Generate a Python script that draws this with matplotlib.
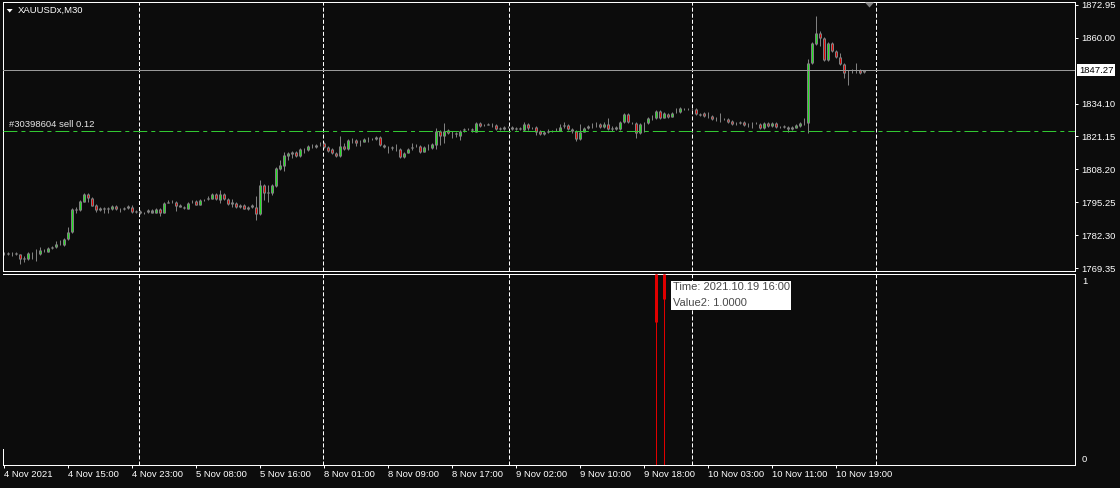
import matplotlib
matplotlib.use("Agg")
import matplotlib.pyplot as plt
from matplotlib.collections import LineCollection
from matplotlib.patches import Rectangle, Polygon
from matplotlib.transforms import blended_transform_factory

# XAUUSDx M30 candles, bar 0 = 4 Nov 2021 07:00
opens = [
    1775.2, 1775.1, 1775.0, 1774.9, 1774.7, 1772.8, 1772.8, 1775.1,
    1775.0, 1774.7, 1776.4, 1775.8, 1777.2, 1777.5, 1778.8, 1778.4,
    1780.6, 1783.4, 1792.4, 1792.2, 1795.5, 1798.4, 1796.8, 1794.0,
    1792.1, 1792.8, 1792.6, 1792.6, 1793.8, 1792.5, 1792.6, 1792.9,
    1793.5, 1791.6, 1791.7, 1790.9, 1791.3, 1792.0, 1791.2, 1792.6,
    1791.2, 1795.1, 1795.5, 1795.2, 1794.3, 1793.5, 1792.7, 1795.2,
    1795.9, 1794.3, 1796.1, 1796.6, 1796.7, 1798.5, 1796.1, 1798.5,
    1796.4, 1794.4, 1795.1, 1793.3, 1794.1, 1792.7, 1794.2, 1793.3,
    1790.6, 1802.1, 1799.0, 1799.0, 1801.7, 1808.4, 1809.5, 1813.6,
    1814.1, 1814.9, 1813.6, 1815.9, 1815.8, 1817.4, 1816.9, 1818.0,
    1818.5, 1816.9, 1816.1, 1814.8, 1813.5, 1817.4, 1816.4, 1819.8,
    1819.8, 1818.9, 1819.1, 1820.3, 1820.2, 1820.0, 1821.1, 1817.8,
    1817.2, 1816.9, 1816.4, 1816.1, 1813.2, 1814.8, 1816.8, 1817.4,
    1817.4, 1815.2, 1816.9, 1816.5, 1817.9, 1823.5, 1821.4, 1823.7,
    1822.5, 1822.4, 1821.5, 1823.6, 1824.0, 1823.9, 1823.1, 1826.3,
    1825.5, 1825.8, 1826.0, 1825.7, 1824.0, 1824.9, 1824.8, 1825.0,
    1824.1, 1824.3, 1823.7, 1825.9, 1824.6, 1824.8, 1823.3, 1822.0,
    1823.1, 1823.4, 1823.8, 1823.5, 1825.4, 1825.7, 1824.0, 1823.3,
    1820.0, 1823.1, 1824.4, 1825.6, 1825.9, 1825.9, 1825.0, 1825.9,
    1824.2, 1824.0, 1824.1, 1826.7, 1829.9, 1826.6, 1826.3, 1822.4,
    1826.3, 1826.3, 1828.3, 1828.3, 1831.2, 1828.6, 1830.2, 1829.0,
    1830.5, 1830.7, 1832.1, 1831.9, 1831.8, 1831.9, 1829.6, 1830.5,
    1829.2, 1829.2, 1827.9, 1828.0, 1827.9, 1827.9, 1827.3, 1826.3,
    1826.3, 1827.0, 1826.1, 1826.1, 1826.4, 1826.0, 1824.4, 1826.3,
    1825.3, 1826.6, 1825.0, 1825.0, 1825.0, 1824.0, 1824.6, 1825.3,
    1826.6, 1826.3, 1850.0, 1857.6, 1861.8, 1859.8, 1851.3, 1857.8,
    1855.0, 1852.3, 1849.7, 1847.0, 1847.2, 1847.6, 1847.4, 1846.7,
]
highs = [
    1775.6, 1775.5, 1775.6, 1775.7, 1775.0, 1774.1, 1775.6, 1775.8,
    1776.8, 1777.5, 1777.0, 1777.8, 1778.1, 1779.9, 1780.4, 1781.2,
    1785.4, 1793.0, 1793.3, 1796.2, 1798.8, 1798.8, 1797.2, 1794.4,
    1793.3, 1793.4, 1793.5, 1794.3, 1794.3, 1793.0, 1793.3, 1794.3,
    1794.0, 1792.2, 1792.1, 1791.6, 1792.4, 1792.4, 1793.0, 1793.0,
    1795.5, 1796.0, 1796.0, 1795.6, 1794.7, 1793.6, 1795.2, 1796.0,
    1796.3, 1796.5, 1796.6, 1797.8, 1798.8, 1798.9, 1800.1, 1798.9,
    1796.8, 1796.4, 1795.5, 1794.6, 1794.5, 1793.9, 1794.6, 1797.7,
    1804.0, 1802.5, 1802.1, 1802.5, 1809.0, 1811.9, 1815.2, 1815.0,
    1815.6, 1815.3, 1816.5, 1816.6, 1817.8, 1818.2, 1818.2, 1818.8,
    1818.9, 1817.3, 1816.5, 1815.2, 1821.4, 1818.7, 1820.2, 1820.4,
    1820.2, 1819.6, 1820.7, 1820.8, 1820.5, 1821.5, 1821.5, 1818.2,
    1817.6, 1817.3, 1818.1, 1816.5, 1815.2, 1816.5, 1818.5, 1818.0,
    1817.8, 1817.3, 1818.2, 1818.5, 1824.4, 1823.9, 1826.3, 1824.1,
    1823.3, 1822.8, 1823.7, 1824.4, 1824.5, 1824.6, 1826.7, 1826.7,
    1826.1, 1826.4, 1826.3, 1826.1, 1825.0, 1825.3, 1825.4, 1825.3,
    1825.0, 1824.7, 1827.0, 1826.3, 1825.0, 1825.2, 1823.7, 1823.2,
    1824.1, 1823.9, 1824.3, 1825.9, 1827.0, 1826.1, 1824.4, 1823.7,
    1825.9, 1825.0, 1825.8, 1826.3, 1827.0, 1826.3, 1826.7, 1828.6,
    1825.4, 1825.4, 1827.1, 1830.3, 1830.3, 1827.0, 1826.7, 1826.3,
    1826.8, 1828.7, 1829.6, 1831.6, 1831.6, 1830.7, 1830.6, 1830.7,
    1832.5, 1832.6, 1832.5, 1832.3, 1832.3, 1832.3, 1830.5, 1830.9,
    1830.9, 1829.6, 1828.7, 1830.3, 1828.4, 1828.3, 1827.7, 1826.9,
    1827.4, 1827.4, 1826.5, 1827.0, 1826.8, 1826.4, 1826.7, 1826.7,
    1827.0, 1827.0, 1825.4, 1825.5, 1825.4, 1825.4, 1826.1, 1827.0,
    1828.3, 1851.5, 1858.5, 1868.6, 1862.6, 1860.5, 1858.2, 1858.5,
    1855.4, 1853.9, 1850.1, 1847.5, 1847.9, 1850.0, 1847.8, 1847.5,
]
lows = [
    1774.6, 1774.5, 1774.2, 1774.6, 1770.8, 1771.9, 1772.5, 1772.8,
    1772.3, 1774.3, 1775.7, 1775.5, 1776.9, 1777.2, 1778.3, 1778.0,
    1780.3, 1783.0, 1790.9, 1791.9, 1795.2, 1795.2, 1793.6, 1791.3,
    1791.8, 1790.9, 1790.9, 1792.3, 1792.1, 1791.5, 1792.3, 1792.6,
    1791.2, 1791.2, 1790.5, 1790.6, 1791.0, 1790.9, 1790.9, 1790.0,
    1790.9, 1794.8, 1795.0, 1791.9, 1793.2, 1792.7, 1792.4, 1794.9,
    1794.0, 1794.0, 1795.8, 1796.3, 1796.4, 1796.1, 1794.8, 1796.1,
    1794.1, 1793.5, 1793.0, 1793.0, 1792.4, 1792.2, 1792.9, 1788.3,
    1790.2, 1796.2, 1795.5, 1798.1, 1801.3, 1808.0, 1807.6, 1811.9,
    1812.6, 1813.2, 1813.2, 1814.5, 1815.5, 1816.5, 1816.6, 1817.6,
    1816.5, 1815.2, 1814.1, 1813.2, 1813.1, 1815.9, 1816.0, 1818.5,
    1817.4, 1817.4, 1818.8, 1819.1, 1819.6, 1819.7, 1817.4, 1816.5,
    1814.5, 1815.8, 1815.6, 1812.6, 1812.8, 1814.5, 1815.8, 1817.0,
    1814.8, 1814.9, 1815.8, 1816.2, 1816.1, 1817.8, 1818.5, 1822.0,
    1820.7, 1820.8, 1819.8, 1823.1, 1823.6, 1823.1, 1822.8, 1824.9,
    1825.2, 1825.5, 1825.0, 1823.6, 1823.6, 1823.6, 1824.5, 1823.9,
    1823.8, 1823.8, 1823.4, 1823.7, 1824.2, 1821.7, 1821.6, 1821.6,
    1822.6, 1823.1, 1823.5, 1823.2, 1824.4, 1823.6, 1822.4, 1819.4,
    1819.6, 1822.8, 1824.1, 1824.6, 1825.0, 1824.6, 1824.6, 1823.6,
    1823.3, 1823.7, 1823.8, 1826.4, 1826.3, 1825.9, 1820.4, 1822.0,
    1823.1, 1826.0, 1827.7, 1828.0, 1828.2, 1828.3, 1828.6, 1828.7,
    1830.3, 1830.4, 1831.7, 1831.5, 1831.5, 1829.5, 1829.3, 1828.8,
    1828.3, 1827.5, 1827.4, 1827.0, 1827.6, 1826.6, 1825.7, 1825.8,
    1825.9, 1825.3, 1825.0, 1824.4, 1826.0, 1824.0, 1824.0, 1824.9,
    1824.9, 1824.6, 1824.5, 1824.6, 1823.1, 1823.6, 1824.3, 1825.0,
    1825.7, 1822.4, 1849.6, 1857.2, 1856.8, 1850.9, 1850.9, 1854.6,
    1851.9, 1849.3, 1844.1, 1841.4, 1846.0, 1846.0, 1845.9, 1846.3,
]
closes = [
    1775.1, 1775.0, 1774.9, 1775.1, 1772.8, 1773.2, 1775.1, 1775.2,
    1774.9, 1776.4, 1776.3, 1777.2, 1777.6, 1778.8, 1778.8, 1780.8,
    1783.4, 1792.5, 1792.2, 1795.8, 1798.5, 1796.8, 1793.9, 1792.1,
    1792.8, 1792.6, 1792.9, 1793.8, 1792.5, 1792.6, 1792.9, 1793.8,
    1791.5, 1791.7, 1790.9, 1791.2, 1792.0, 1791.2, 1792.6, 1790.9,
    1795.1, 1795.5, 1795.5, 1793.9, 1793.5, 1793.1, 1794.8, 1795.5,
    1794.3, 1796.1, 1796.2, 1796.8, 1798.4, 1796.4, 1798.4, 1796.4,
    1794.4, 1795.2, 1793.3, 1794.2, 1792.7, 1793.5, 1793.3, 1790.6,
    1802.1, 1799.0, 1799.1, 1802.1, 1808.6, 1809.9, 1813.9, 1814.5,
    1815.2, 1813.6, 1816.1, 1815.8, 1817.4, 1817.5, 1817.8, 1818.2,
    1816.9, 1815.6, 1814.5, 1813.6, 1817.4, 1816.2, 1819.8, 1819.8,
    1818.5, 1819.1, 1820.3, 1820.3, 1820.0, 1821.1, 1817.8, 1816.9,
    1817.1, 1816.8, 1816.3, 1813.2, 1814.8, 1816.1, 1816.9, 1817.5,
    1815.2, 1816.9, 1816.9, 1818.1, 1823.5, 1821.4, 1823.5, 1822.4,
    1822.4, 1822.0, 1823.3, 1824.0, 1824.0, 1824.0, 1826.3, 1825.3,
    1825.7, 1826.0, 1825.9, 1824.0, 1824.6, 1824.0, 1825.0, 1824.2,
    1824.6, 1824.1, 1825.9, 1824.6, 1824.6, 1823.1, 1822.0, 1822.8,
    1823.3, 1823.5, 1823.9, 1824.8, 1825.5, 1824.0, 1823.3, 1820.2,
    1823.1, 1824.6, 1825.4, 1825.7, 1826.0, 1825.0, 1825.9, 1824.0,
    1824.4, 1825.0, 1826.7, 1829.9, 1826.7, 1826.5, 1822.4, 1825.9,
    1826.4, 1828.3, 1828.3, 1831.2, 1828.6, 1830.3, 1829.0, 1830.3,
    1830.6, 1832.2, 1832.1, 1831.8, 1831.9, 1829.9, 1830.1, 1829.2,
    1829.3, 1827.9, 1828.0, 1827.9, 1828.0, 1827.0, 1826.1, 1826.4,
    1827.0, 1825.7, 1826.1, 1826.2, 1826.3, 1824.4, 1826.3, 1825.3,
    1826.6, 1825.0, 1825.0, 1825.1, 1824.0, 1825.0, 1825.7, 1826.6,
    1826.6, 1850.0, 1858.1, 1861.8, 1859.8, 1851.3, 1857.8, 1855.0,
    1852.3, 1849.7, 1846.3, 1846.9, 1847.5, 1847.6, 1846.3, 1847.27,
]

time_label_bars = [0, 16, 32, 48, 64, 80, 96, 112, 128, 144, 160, 176, 192, 208]
time_labels = ['4 Nov 2021', '4 Nov 15:00', '4 Nov 23:00', '5 Nov 08:00',
               '5 Nov 16:00', '8 Nov 01:00', '8 Nov 09:00', '8 Nov 17:00',
               '9 Nov 02:00', '9 Nov 10:00', '9 Nov 18:00', '10 Nov 03:00',
               '10 Nov 11:00', '10 Nov 19:00']
price_ticks = [1872.95, 1860.00, 1834.10, 1821.15, 1808.20, 1795.25, 1782.30, 1769.35]
grid_bars = [33.9, 79.9, 126.4, 172.1, 218.1]

bid_price = 1847.27
order_price = 1823.2
order_text = '#30398604 sell 0.12'
symbol_text = 'XAUUSDx,M30'

# indicator window (Value2 = 1 on two bars)
signal_bars = [163, 165]
signal_values = [1.0, 1.0]
signal_marks = [0.77, 0.90]
tooltip_lines = ['Time: 2021.10.19 16:00', 'Value2: 1.0000']

BG = '#0c0c0c'
FG = 'white'
GREY = '#808080'
BULL = '#1ee01e'
BEAR = '#e00000'
ORDER = '#32c832'

plt.rcParams['font.family'] = ['Liberation Sans', 'DejaVu Sans']
plt.rcParams['lines.scale_dashes'] = False
FS = 6.8
PX = 0.72  # one pixel in points

W, H = 1120, 488
fig = plt.figure(figsize=(W / 100, H / 100), dpi=100)
fig.patch.set_facecolor(BG)


def fx(x):
    return x / W


def fy(y):
    return 1 - y / H


def add_axes_px(left, top, right, bottom):
    return fig.add_axes([fx(left), fy(bottom), (right - left) / W, (bottom - top) / H])


ax = add_axes_px(3, 2.5, 1075, 271)
ax2 = add_axes_px(3, 274, 1075, 465)

xlo, xhi = (3 - 3.5) / 4, (1075 - 3.5) / 4
for a in (ax, ax2):
    a.set_facecolor(BG)
    a.set_xlim(xlo, xhi)
    for s in a.spines.values():
        s.set_color(FG)
        s.set_linewidth(PX)
    for g in grid_bars:
        a.axvline(g, color=FG, lw=PX, ls=(0, (2.9, 1.45)), zorder=1)

ax.set_ylim(1768.17, 1873.93)
ax2.set_ylim(-7 / 177, 1 + 7 / 177)

# candles
n = len(closes)
wicks = [[(i, lows[i]), (i, highs[i])] for i in range(n)]
ax.add_collection(LineCollection(wicks, colors=GREY, linewidths=PX, zorder=2))
unit = 1 / 2.5386  # one pixel in price units
for i in range(n):
    o, c = opens[i], closes[i]
    lo, hi = min(o, c), max(o, c)
    ax.plot([i, i], [lo, hi + 0.001], color=GREY, lw=3 * PX, solid_capstyle='butt', zorder=3)
    if hi - lo > 2 * unit:
        ax.plot([i, i], [lo + unit, hi - unit], color=BULL if c > o else BEAR,
                lw=PX, solid_capstyle='butt', zorder=4)

# price lines
ax.axhline(bid_price, color='#9a9a9a', lw=PX, zorder=5)
ax.axhline(order_price, color=ORDER, lw=PX, ls=(0, (10, 2.9, 2.9, 2.9)), zorder=5)
ax.annotate(order_text, xy=((9 - 3) / 1072, order_price), xycoords=blended_transform_factory(ax.transAxes, ax.transData),
            xytext=(0, 2), textcoords='offset points', color='#e6e6e6', fontsize=FS, va='bottom', ha='left')

# right price scale
ax.yaxis.tick_right()
ax.set_yticks(price_ticks)
ax.set_yticklabels(['%.2f' % p for p in price_ticks])
ax.tick_params(axis='y', colors=FG, labelcolor=FG, labelsize=FS, length=2.2, width=PX, pad=2.5)
ax.set_xticks([])
ax.text((1079 - 3) / 1072, bid_price, '%.2f' % bid_price, transform=blended_transform_factory(ax.transAxes, ax.transData),
        ha='left', va='center', color='black', fontsize=FS, clip_on=False,
        bbox=dict(boxstyle='square,pad=0.18', fc='white', ec='none'), zorder=6)

# indicator window
ax2.spines['left'].set_bounds(-7 / 177, 9 / 177)
ax2.vlines(signal_bars, -7 / 177, 1 + 7 / 177, colors=BEAR, lw=PX, zorder=3)
ax2.vlines(signal_bars, signal_marks, 1 + 7 / 177, colors=BEAR, lw=3 * PX, zorder=3)
ax2.yaxis.tick_right()
ax2.set_yticks([1, 0])
ax2.set_yticklabels(['1', '0'])
ax2.tick_params(axis='y', colors=FG, labelcolor=FG, labelsize=FS, length=0, pad=5)
ax2.set_xticks(time_label_bars)
ax2.set_xticklabels(time_labels, ha='left')
ax2.tick_params(axis='x', colors=FG, labelcolor=FG, labelsize=FS, length=2.2, width=PX, pad=1.5)
for lab in ax2.get_xticklabels():
    lab.set_horizontalalignment('left')

# header
fig.patches.append(Polygon([(fx(6.7), fy(9)), (fx(12.7), fy(9)), (fx(9.7), fy(12.5))], closed=True,
                           transform=fig.transFigure, fc=FG, ec='none'))
fig.text(fx(18), fy(10.5), symbol_text, color=FG, fontsize=FS, va='center', ha='left')

# chart shift marker
fig.patches.append(Polygon([(fx(865), fy(2.5)), (fx(874), fy(2.5)), (fx(869.5), fy(7.5))], closed=True,
                           transform=fig.transFigure, fc=GREY, ec='none', zorder=10))

# tooltip
fig.patches.append(Rectangle((fx(671), fy(310)), (790.7 - 671) / W, (310 - 280.7) / H,
                             transform=fig.transFigure, fc='white', ec='none', zorder=10))
fig.text(fx(673), fy(287.5), tooltip_lines[0], color='#4a4a4a', fontsize=8, va='center', ha='left', zorder=11)
fig.text(fx(673), fy(302.5), tooltip_lines[1], color='#4a4a4a', fontsize=8, va='center', ha='left', zorder=11)

fig.savefig('out.png', dpi=100, facecolor=BG)
